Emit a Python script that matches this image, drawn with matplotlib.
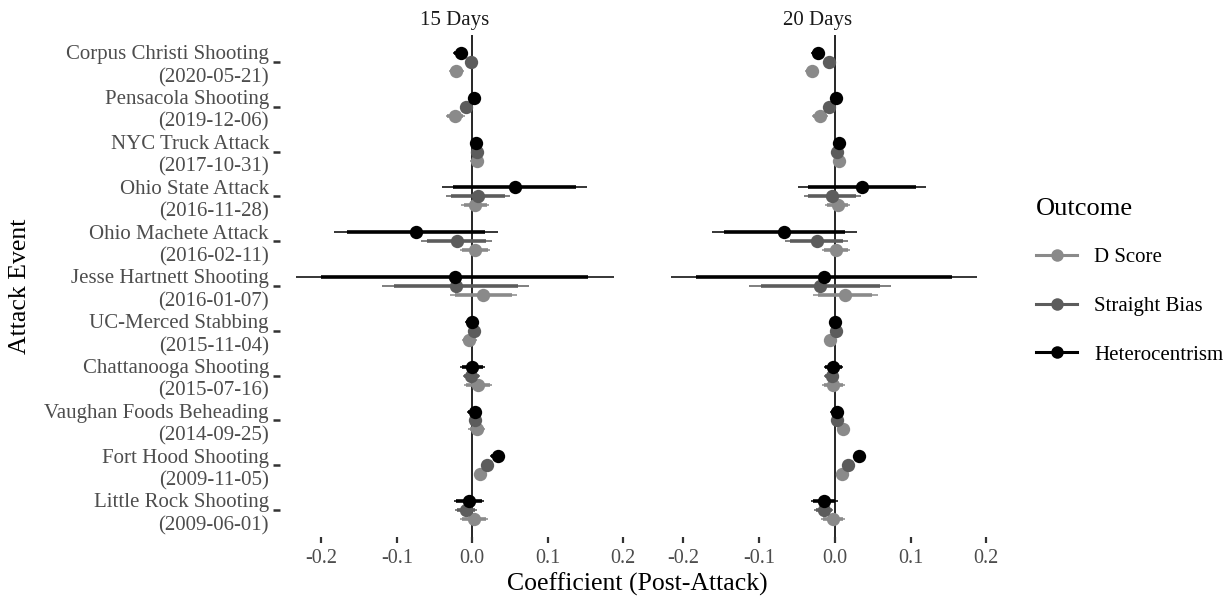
import matplotlib
matplotlib.use("Agg")
import matplotlib.pyplot as plt
from matplotlib.lines import Line2D
import numpy as np

plt.rcParams['font.family'] = ['Liberation Serif', 'DejaVu Serif']

events = ["Corpus Christi Shooting\n(2020-05-21)", "Pensacola Shooting\n(2019-12-06)",
          "NYC Truck Attack\n(2017-10-31)", "Ohio State Attack\n(2016-11-28)",
          "Ohio Machete Attack\n(2016-02-11)", "Jesse Hartnett Shooting\n(2016-01-07)",
          "UC-Merced Stabbing\n(2015-11-04)", "Chattanooga Shooting\n(2015-07-16)",
          "Vaughan Foods Beheading\n(2014-09-25)", "Fort Hood Shooting\n(2009-11-05)",
          "Little Rock Shooting\n(2009-06-01)"]
panels = ["15 Days", "20 Days"]
outcomes = ["D Score", "Straight Bias", "Heterocentrism"]
x_ticks = [-0.2, -0.1, 0.0, 0.1, 0.2]
x_tick_labels = ["-0.2", "-0.1", "0.0", "0.1", "0.2"]

# 15 days: estimates and 95% half-widths
h15 = [-0.0155, 0.002, 0.005, 0.056, -0.0746, -0.023, 0.0, 0.0, 0.003, 0.0336, -0.0044]
h15_ci = [0.010, 0.004, 0.008, 0.0965, 0.1088, 0.2106, 0.0095, 0.0163, 0.0097, 0.010, 0.020]
sb15 = [-0.002, -0.008, 0.006, 0.0075, -0.0207, -0.022, 0.0026, -0.0013, 0.0035, 0.0194, -0.0084]
sb15_ci = [0.004, 0.005, 0.004, 0.0424, 0.047, 0.0976, 0.005, 0.0115, 0.005, 0.005, 0.0143]
d15 = [-0.021, -0.0225, 0.0066, 0.004, 0.0035, 0.0146, -0.004, 0.0075, 0.0057, 0.0097, 0.0022]
d15_ci = [0.0105, 0.0125, 0.009, 0.0183, 0.020, 0.0446, 0.0097, 0.0183, 0.011, 0.005, 0.0183]

# 20 days
h20 = [-0.0229, 0.0018, 0.0053, 0.036, -0.0668, -0.0145, 0.0, -0.0018, 0.0026, 0.0317, -0.014]
h20_ci = [0.009, 0.004, 0.006, 0.085, 0.0954, 0.2016, 0.006, 0.013, 0.0095, 0.008, 0.0176]
sb20 = [-0.0075, -0.0075, 0.0035, -0.0035, -0.0242, -0.0193, 0.0018, -0.0044, 0.003, 0.0172, -0.0145]
sb20_ci = [0.004, 0.004, 0.004, 0.0376, 0.0418, 0.0935, 0.004, 0.0095, 0.004, 0.004, 0.0125]
d20 = [-0.030, -0.0198, 0.0057, 0.004, 0.0013, 0.0136, -0.006, -0.002, 0.0106, 0.0092, -0.0026]
d20_ci = [0.0095, 0.011, 0.0086, 0.0165, 0.0187, 0.0429, 0.006, 0.015, 0.006, 0.005, 0.0156]

data = {
    "15 Days": {"D Score": (d15, d15_ci), "Straight Bias": (sb15, sb15_ci), "Heterocentrism": (h15, h15_ci)},
    "20 Days": {"D Score": (d20, d20_ci), "Straight Bias": (sb20, sb20_ci), "Heterocentrism": (h20, h20_ci)},
}
colors = {"D Score": "#8a8a8a", "Straight Bias": "#5c5c5c", "Heterocentrism": "#000000"}
offsets = {"D Score": -0.2, "Straight Bias": 0.0, "Heterocentrism": 0.2}

W, H = 1230, 597
fig = plt.figure(figsize=(W / 100, H / 100), dpi=100)

def px_axes(x0, x1, y0, y1):
    return fig.add_axes([x0 / W, 1 - y1 / H, (x1 - x0) / W, (y1 - y0) / H])

ax1 = px_axes(280, 630, 35, 537)
ax2 = px_axes(642, 993, 35, 537)
n = len(events)
base = np.arange(n)[::-1]
ratio90 = 1.645 / 1.96

for ax, panel in zip([ax1, ax2], panels):
    ax.axvline(0, color="black", lw=1.2, zorder=1)
    for o in outcomes:
        est, ci = data[panel][o]
        est = np.array(est); ci = np.array(ci)
        y = base + offsets[o]
        c = colors[o]
        ax.hlines(y, est - ci, est + ci, color=c, lw=1.1, zorder=2)
        ax.hlines(y, est - ci * ratio90, est + ci * ratio90, color=c, lw=2.6, zorder=3)
        ax.plot(est, y, "o", color=c, ms=9.6, mec="none", zorder=4)
    ax.set_xlim(-0.2546, 0.2088)
    ax.set_ylim(-0.6, n - 0.4)
    ax.set_xticks(x_ticks)
    ax.set_xticklabels(x_tick_labels)
    for s in ax.spines.values():
        s.set_visible(False)
    ax.tick_params(axis="x", length=4.5, width=1.6, color="#333333", labelsize=14.5,
                   labelcolor="#4d4d4d", pad=4)
    ax.set_title(panel, fontsize=15, color="#1a1a1a", pad=7)
    ax.set_facecolor("none")

ax1.set_yticks(base)
ax1.set_yticklabels(events, linespacing=1.25)
ax1.tick_params(axis="y", length=5, width=1.8, color="#333333", labelsize=15,
                labelcolor="#4d4d4d", pad=3)
ax2.set_yticks([])

fig.text(637 / W, 1 - 584 / H, "Coefficient (Post-Attack)", ha="center", va="center",
         fontsize=18.5, color="black")
fig.text(20 / W, 1 - 286 / H, "Attack Event", ha="center", va="center", rotation=90,
         fontsize=18.5, color="black")

handles = [Line2D([0], [0], color=colors[o], lw=2.2, marker="o", ms=9, mec="none") for o in outcomes]
leg = fig.legend(handles, outcomes, loc="upper left", bbox_to_anchor=(1017 / W, 1 - 179 / H),
                 frameon=False, fontsize=15, title="Outcome", title_fontsize=19,
                 handlelength=2.0, labelspacing=1.4, handletextpad=0.8, alignment="left")
leg._legend_box.sep = 20

fig.savefig("out.png", dpi=100)
